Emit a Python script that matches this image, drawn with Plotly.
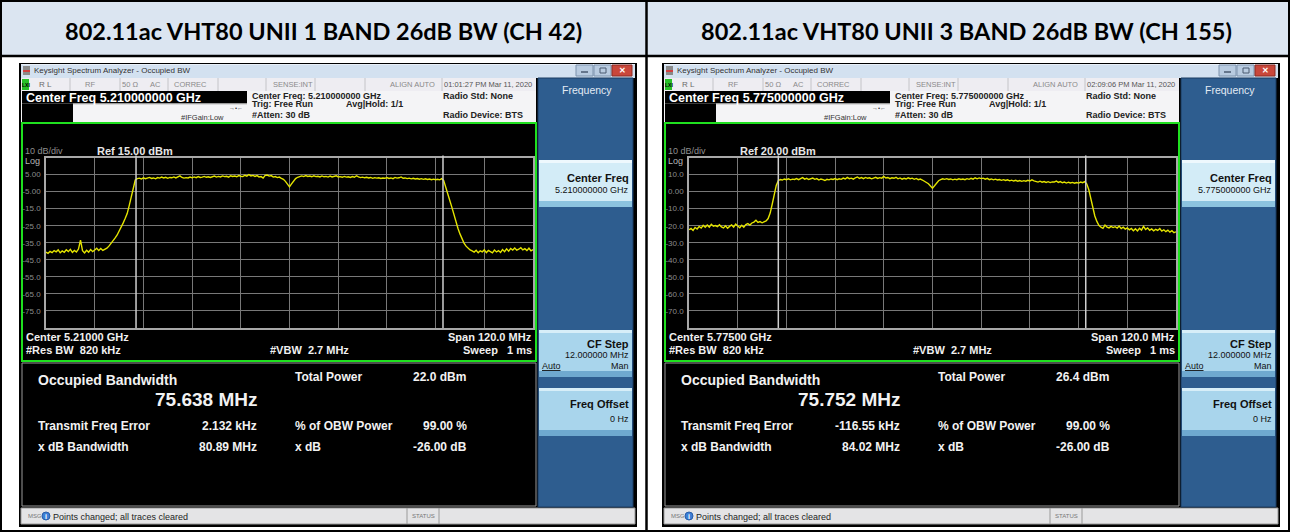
import plotly.graph_objects as go

W, H = 1290, 532

# ---------------- data ----------------
titles = ["802.11ac VHT80 UNII 1 BAND 26dB BW (CH 42)",
          "802.11ac VHT80 UNII 3 BAND 26dB BW (CH 155)"]
center_freq = ["5.210000000 GHz", "5.775000000 GHz"]
center_short = ["5.21000 GHz", "5.77500 GHz"]
timestamps = ["01:01:27 PM Mar 11, 2020", "02:09:06 PM Mar 11, 2020"]
span_mhz = 120.0
ref_dbm = [15.0, 20.0]
db_per_div = 10.0
obw_mhz = [75.638, 75.752]
freq_err_khz = [2.132, -116.55]
xdb_bw_mhz = [80.89, 84.02]
total_power_dbm = [22.0, 26.4]
obw_power_pct = [99.00, 99.00]
x_db = [-26.00, -26.00]

# trace readings (dBm), equally spaced across the 120 MHz span
trace_ch42 = [
    -40.5, -41.2, -40.1, -40.8, -39.6, -40.3, -39.2, -40.9, -39.8, -40.6,
    -39.1, -40.2, -38.9, -40.7, -39.5, -40.4, -38.7, -33.5, -39.6, -41.0,
    -39.4, -40.5, -39.0, -40.2, -39.3, -38.2, -39.6, -38.4, -39.5, -38.9,
    -38.2, -37.0, -35.6, -34.0, -32.3, -30.6, -28.4, -25.9, -23.5, -20.8,
    -17.9, -13.2, -7.5, -2.5, 1.8, 2.6,
    2.9, 2.4, 3.1, 2.6, 2.8, 3.3, 2.7, 3.0, 2.5, 3.2,
    2.9, 3.5, 3.0, 3.4, 2.8, 3.3, 3.1, 3.6, 3.0, 3.4,
    4.2, 3.3, 2.9, 3.2, 3.0, 3.5, 3.1, 3.6, 3.2, 3.8,
    3.3, 3.5, 3.9, 3.4, 3.7, 3.3, 3.8, 4.1, 3.5, 3.9,
    3.6, 4.2, 3.8, 4.0, 3.5, 4.3, 3.9, 4.1, 3.7, 4.4,
    4.0, 3.8, 4.6, 4.1, 5.0, 4.2, 4.5, 3.9, 4.4, 3.6,
    3.8, 2.9, 4.5, 4.7, 4.1, 4.4, 3.5, 3.8, 3.2, 3.5,
    2.8, 2.2, 1.0, -0.8,
    -2.2,
    -0.5, 1.4, 2.6, 3.4, 3.9, 4.2, 3.8, 4.4, 3.9, 4.1,
    3.7, 4.3, 3.8, 4.0, 3.6, 4.2, 3.7, 3.9, 3.5, 4.1,
    3.6, 3.9, 4.3, 3.6, 3.8, 3.4, 3.9, 3.5, 3.7, 3.3,
    3.8, 3.4, 4.3, 3.6, 3.2, 3.5, 3.1, 3.4, 3.0, 3.3,
    2.8, 3.2, 2.9, 3.1, 2.7, 3.0, 2.8, 3.2, 2.7, 3.0,
    2.6, 3.3, 2.9, 3.1, 3.6, 2.8, 3.0, 2.6, 2.9, 2.5,
    2.8, 2.4, 2.7, 2.3, 2.6, 2.2, 2.5, 2.1, 2.4, 2.0,
    2.3, 2.0, 2.2, 1.9, 2.6, 1.5,
    -2.0, -6.5, -10.2, -14.1, -18.6, -23.0, -26.5, -29.8, -32.6, -35.2,
    -37.0, -38.4, -39.2,
    -39.8, -40.5, -39.4, -40.9, -39.7, -40.3, -39.2, -40.8, -39.5, -40.1,
    -40.9, -39.3, -40.4, -39.6, -40.7, -39.0, -40.2, -38.6, -39.9, -38.4,
    -39.3, -38.1, -39.4, -38.8, -37.9, -39.2, -38.5, -39.6, -38.2, -39.7,
    -39.0,
]

trace_ch155 = [
    -22.4, -21.6, -22.8, -21.0, -21.9, -20.5, -21.4, -19.8, -20.9, -19.6,
    -20.8, -19.2, -20.3, -19.9, -20.6, -19.4, -20.7, -21.3, -20.1, -21.5,
    -20.4, -19.6, -20.8, -19.1, -20.2, -21.2, -19.7, -20.9, -19.3, -18.8,
    -19.6, -18.4, -17.9, -16.8, -18.1, -17.6, -18.3, -17.9, -17.2, -15.8,
    -12.6, -7.4, -1.8, 3.6, 6.4, 7.1,
    6.8, 7.4, 7.0, 7.5, 6.9, 7.3, 7.1, 7.6, 7.0, 7.4,
    8.2, 7.3, 7.8, 7.1, 7.5, 7.9, 7.2, 7.6, 6.8, 7.4,
    7.0, 6.5, 7.2, 6.9, 7.4, 7.1, 7.6, 7.0, 7.5, 7.2,
    7.9, 7.4, 8.3, 7.6, 7.9, 7.3, 8.1, 8.6, 7.7, 8.2,
    7.6, 8.3, 7.8, 8.1, 7.5, 8.0, 8.4, 7.7, 8.2, 7.9,
    8.9, 8.0, 8.3, 7.6, 8.1, 7.8, 8.4, 7.5, 8.0, 7.3,
    7.8, 7.4, 8.1, 7.6, 7.9, 7.2, 7.7, 7.0, 7.4, 6.8,
    6.2, 5.5, 4.6, 3.3,
    2.0,
    3.4, 5.2, 6.4, 7.0, 7.5, 7.2, 7.6, 7.1, 7.4, 6.9,
    7.3, 7.0, 7.5, 7.1, 7.4, 7.0, 7.6, 7.2, 7.8, 7.3,
    8.1, 7.5, 8.0, 7.6, 7.9, 7.3, 7.8, 7.0, 7.4, 6.9,
    7.3, 6.8, 7.1, 6.6, 7.0, 6.5, 6.9, 6.3, 6.7, 6.2,
    6.6, 6.1, 6.5, 6.0, 6.4, 6.1, 6.6, 6.2, 6.9, 6.3,
    6.0, 5.6, 6.1, 5.5, 5.9, 5.4, 5.8, 5.3, 5.7, 5.6,
    6.2, 5.4, 5.9, 5.2, 5.6, 5.0, 5.5, 5.1, 5.4, 4.9,
    5.3, 5.0, 5.6, 5.2, 5.8, 4.6,
    1.2, -4.1, -9.6, -14.3, -17.5, -19.8, -20.9, -21.5, -19.6, -20.8,
    -21.3, -20.4, -21.1,
    -20.6, -21.4, -20.2, -21.7, -20.9, -22.0, -21.3, -22.4, -21.6, -22.9,
    -21.8, -23.1, -21.5, -22.6, -20.4, -22.2, -21.3, -22.7, -21.9, -23.0,
    -22.1, -22.8, -21.7, -23.2, -22.4, -23.5, -22.6, -23.8, -22.9, -24.1,
    -23.6,
]
traces = [trace_ch42, trace_ch155]

# ---------------- helpers ----------------
def X(px):
    return px / W

def Y(py):
    return 1 - py / H

shapes = []
annotations = []

def rect(x0, y0, x1, y1, fill=None, line=None, lw=0, layer="below"):
    shapes.append(dict(type="rect", xref="paper", yref="paper",
                       x0=X(x0), x1=X(x1), y0=Y(y1), y1=Y(y0),
                       fillcolor=fill if fill else "rgba(0,0,0,0)",
                       line=dict(color=line if line else "rgba(0,0,0,0)", width=lw),
                       layer=layer))

def hline(x0, x1, y, color, lw=1, layer="below"):
    shapes.append(dict(type="line", xref="paper", yref="paper",
                       x0=X(x0), x1=X(x1), y0=Y(y), y1=Y(y),
                       line=dict(color=color, width=lw), layer=layer))

def vline(x, y0, y1, color, lw=1, layer="below"):
    shapes.append(dict(type="line", xref="paper", yref="paper",
                       x0=X(x), x1=X(x), y0=Y(y0), y1=Y(y1),
                       line=dict(color=color, width=lw), layer=layer))

def txt(x, y, s, size=9, color="#ffffff", anchor="left", bold=False,
        family="Liberation Sans"):
    annotations.append(dict(xref="paper", yref="paper", x=X(x), y=Y(y), text=s,
                            showarrow=False, xanchor=anchor, yanchor="middle",
                            borderpad=0,
                            font=dict(size=size, color=color, family=family,
                                      weight="bold" if bold else "normal")))

def fmt_tick(v):
    if abs(v) < 10:
        return f"{v:.2f}"
    return f"{v:.1f}"

# ---------------- table ----------------
rect(0, 0, W, 56, fill="#dbe5f1")
rect(0, 56, W, H, fill="#ffffff")
hline(0, W, 1, "#000000", 2)
hline(0, W, 56, "#000000", 2.5)
hline(0, W, 531, "#000000", 2)
vline(1, 0, H, "#000000", 2)
vline(646.5, 0, H, "#000000", 2.5)
vline(1289, 0, H, "#000000", 2)
txt(323, 31, titles[0], size=23.5, color="#000000", anchor="center", bold=True, family="Lato")
txt(967, 31, titles[1], size=23.5, color="#000000", anchor="center", bold=True, family="Lato")

fig = go.Figure()

for i, ox in enumerate([0, 643]):
    # screenshot frame
    rect(ox + 19, 63, ox + 637, 527, fill="#000000")
    # title bar
    rect(ox + 21, 64, ox + 635, 78, fill="#d3e1f0")
    hline(ox + 21, ox + 635, 64.5, "#e9f0f8", 1)
    rect(ox + 23, 66, ox + 30, 75, fill="#8a8a8a")
    rect(ox + 23, 70, ox + 30, 72, fill="#d04040")
    txt(ox + 33, 70.5, "Keysight Spectrum Analyzer - Occupied BW", size=8, color="#333333")
    # window controls
    rect(ox + 576, 65, ox + 593, 76, fill="#b8cbe0", line="#7d93ad", lw=1)
    hline(ox + 581, ox + 588, 72, "#4a5a70", 1.5)
    rect(ox + 594, 65, ox + 611, 76, fill="#b8cbe0", line="#7d93ad", lw=1)
    rect(ox + 600, 68, ox + 606, 73, line="#4a5a70", lw=1)
    rect(ox + 612, 65, ox + 632, 76, fill="#c9473b", line="#8d2c24", lw=1)
    txt(ox + 622, 70.5, "✕", size=8, color="#ffffff", anchor="center", bold=True)

    # status row
    rect(ox + 21, 78, ox + 536, 91, fill="#eeedf2")
    rect(ox + 22, 79, ox + 29, 90, fill="#28c028")
    txt(ox + 25.5, 84.5, "LXI", size=5, color="#000000", anchor="center", bold=True)
    for sx in [70, 120, 168, 218, 266, 315, 365, 442]:
        vline(ox + sx, 78, 91, "#c4c4c8", 1)
    txt(ox + 38, 84.5, "R L", size=8, color="#6a6a6a")
    txt(ox + 90, 84.5, "RF", size=7.5, color="#8a8a8a", anchor="center")
    txt(ox + 130, 84.5, "50 Ω", size=7.5, color="#8a8a8a", anchor="center")
    txt(ox + 155, 84.5, "AC", size=7.5, color="#8a8a8a", anchor="center")
    txt(ox + 190, 84.5, "CORREC", size=7.5, color="#8a8a8a", anchor="center")
    txt(ox + 293, 84.5, "SENSE:INT", size=7.5, color="#8a8a8a", anchor="center")
    txt(ox + 412, 84.5, "ALIGN AUTO", size=7.5, color="#8a8a8a", anchor="center")
    txt(ox + 488, 84.5, timestamps[i], size=7.5, color="#555555", anchor="center")

    # settings rows
    rect(ox + 21, 91, ox + 536, 122, fill="#f4f4f6")
    rect(ox + 22, 91, ox + 247, 103.5, fill="#000000")
    rect(ox + 22, 103.5, ox + 73, 122, fill="#000000")
    hline(ox + 73, ox + 247, 104, "#bdbdbd", 1)
    txt(ox + 25, 97.5, "Center Freq " + center_freq[i], size=12.5, color="#ffffff", bold=True)
    txt(ox + 202, 117, "#IFGain:Low", size=7.5, color="#333333", anchor="center")
    txt(ox + 236, 108, "→•←", size=6, color="#333333", anchor="center")
    txt(ox + 251, 95.5, "Center Freq: " + center_freq[i], size=9, color="#222222", bold=True)
    txt(ox + 251, 104.5, "Trig: Free Run", size=9, color="#222222", bold=True)
    txt(ox + 345, 104.5, "Avg|Hold: 1/1", size=9, color="#222222", bold=True)
    txt(ox + 251, 114.5, "#Atten: 30 dB", size=9, color="#222222", bold=True)
    txt(ox + 442, 95.5, "Radio Std: None", size=9, color="#222222", bold=True)
    txt(ox + 442, 114.5, "Radio Device: BTS", size=9, color="#222222", bold=True)

    # graticule window (green box)
    rect(ox + 22, 123, ox + 536, 361, fill="#000000", line="#1fe01f", lw=2)
    txt(ox + 24, 151, "10 dB/div", size=9, color="#8f8f8f")
    txt(ox + 96, 151, f"Ref {ref_dbm[i]:.2f} dBm", size=11, color="#e6e6e6", bold=True)
    txt(ox + 24, 161, "Log", size=9, color="#b5b5b5")
    txt(ox + 25, 337, "Center " + center_short[i], size=11, color="#f0f0f0", bold=True)
    txt(ox + 533, 337, f"Span {span_mhz:.1f} MHz", size=11, color="#f0f0f0", bold=True, anchor="right")
    txt(ox + 25, 350, "#Res BW  820 kHz", size=11, color="#f0f0f0", bold=True)
    txt(ox + 269, 350, "#VBW  2.7 MHz", size=11, color="#f0f0f0", bold=True)
    txt(ox + 533, 350, "Sweep   1 ms", size=11, color="#f0f0f0", bold=True, anchor="right")

    # measurement area
    rect(ox + 22, 363, ox + 536, 506, fill="#000000", line="#9a9a9a", lw=1)
    txt(ox + 37, 379.5, "Occupied Bandwidth", size=14, color="#f2f2f2", bold=True)
    txt(ox + 258, 399.5, f"{obw_mhz[i]:.3f} MHz", size=19, color="#f2f2f2", bold=True, anchor="right")
    txt(ox + 294, 377, "Total Power", size=12, color="#f2f2f2", bold=True)
    txt(ox + 412, 377, f"{total_power_dbm[i]:.1f} dBm", size=12, color="#f2f2f2", bold=True)
    err = freq_err_khz[i]
    err_s = f"{err:.3f} kHz" if abs(err) < 10 else f"{err:.2f} kHz"
    txt(ox + 37, 425.5, "Transmit Freq Error", size=12, color="#f2f2f2", bold=True)
    txt(ox + 258, 425.5, err_s, size=12, color="#f2f2f2", bold=True, anchor="right")
    txt(ox + 294, 425.5, "% of OBW Power", size=12, color="#f2f2f2", bold=True)
    txt(ox + 468, 425.5, f"{obw_power_pct[i]:.2f} %", size=12, color="#f2f2f2", bold=True, anchor="right")
    txt(ox + 37, 446.5, "x dB Bandwidth", size=12, color="#f2f2f2", bold=True)
    txt(ox + 258, 446.5, f"{xdb_bw_mhz[i]:.2f} MHz", size=12, color="#f2f2f2", bold=True, anchor="right")
    txt(ox + 294, 446.5, "x dB", size=12, color="#f2f2f2", bold=True)
    txt(ox + 468, 446.5, f"{x_db[i]:.2f} dB", size=12, color="#f2f2f2", bold=True, anchor="right")

    # status bar
    rect(ox + 21, 508, ox + 635, 524, fill="#e4e4e6", line="#9a9a9a", lw=1)
    txt(ox + 27, 516, "MSG", size=6, color="#777777")
    shapes.append(dict(type="circle", xref="paper", yref="paper",
                       x0=X(ox + 42), x1=X(ox + 50), y0=Y(520), y1=Y(512),
                       fillcolor="#3d7fd6", line=dict(color="#2a5ea8", width=1), layer="below"))
    txt(ox + 46, 516, "i", size=7, color="#ffffff", anchor="center", bold=True)
    txt(ox + 52, 516.5, "Points changed; all traces cleared", size=9, color="#1e1e1e")
    vline(ox + 407, 508, 524, "#9a9a9a", 1)
    vline(ox + 439, 508, 524, "#9a9a9a", 1)
    txt(ox + 423, 516, "STATUS", size=6, color="#777777", anchor="center")

    # soft-key panel
    rect(ox + 538, 78, ox + 633, 507, fill="#2e5d8f", line="#1b3d63", lw=1)
    txt(ox + 587, 90, "Frequency", size=10.5, color="#e3ebf4", anchor="center")
    for (b0, b1, top_col, mid_col, bot_col) in [(160, 207, "#eef8fd", "#d3ecf7", "#8cc3df"),
                                                 (330, 377, "#d7eef8", "#a9d5ec", "#6fa9cf"),
                                                 (388, 436, "#d7eef8", "#a9d5ec", "#6fa9cf")]:
        rect(ox + 539, b0, ox + 632, b1, fill=mid_col)
        rect(ox + 539, b0, ox + 632, b0 + 3, fill=top_col)
        rect(ox + 539, b1 - 6, ox + 632, b1, fill=bot_col)
    txt(ox + 630, 177.5, "Center Freq", size=11, color="#111111", bold=True, anchor="right")
    txt(ox + 630, 190.5, center_freq[i], size=9, color="#111111", anchor="right")
    txt(ox + 630, 343.5, "CF Step", size=11, color="#111111", bold=True, anchor="right")
    txt(ox + 630, 355, f"{span_mhz / 10:.6f} MHz", size=9, color="#111111", anchor="right")
    txt(ox + 541, 365.5, "<u>Auto</u>", size=9, color="#111111")
    txt(ox + 630, 365.5, "Man", size=9, color="#111111", anchor="right")
    txt(ox + 630, 403.5, "Freq Offset", size=11, color="#111111", bold=True, anchor="right")
    txt(ox + 630, 419, "0 Hz", size=9, color="#111111", anchor="right")

    # spectrum trace
    n = len(traces[i])
    freq = [-span_mhz / 2 + k * span_mhz / (n - 1) for k in range(n)]
    ax = "" if i == 0 else "2"
    fig.add_trace(go.Scatter(x=freq, y=traces[i], mode="lines",
                             line=dict(color="#e4e400", width=1.4),
                             xaxis="x" + ax, yaxis="y" + ax,
                             hoverinfo="skip", showlegend=False))

    # OBW markers
    f_err = freq_err_khz[i] / 1000.0
    for mk in [f_err - obw_mhz[i] / 2, f_err + obw_mhz[i] / 2]:
        shapes.append(dict(type="line", xref="x" + ax, yref="y" + ax + " domain",
                           x0=mk, x1=mk, y0=0, y1=1.012,
                           line=dict(color="#cfcfcf", width=1.5), layer="above"))

    top = ref_dbm[i]
    yvals = [top - db_per_div * k for k in range(1, 10)]
    gx0, gx1 = ox + 46, ox + 533
    xa = dict(domain=[X(gx0), X(gx1)], range=[-span_mhz / 2, span_mhz / 2],
              tickvals=[-span_mhz / 2 + span_mhz / 10 * k for k in range(1, 10)],
              showticklabels=False, showgrid=True, gridcolor="#787878", gridwidth=1,
              showline=True, mirror=True, linecolor="#a8a8a8", linewidth=1.5,
              zeroline=False, ticks="", fixedrange=True,
              anchor="y" + ax)
    ya = dict(domain=[Y(328), Y(157.5)], range=[top - 10 * db_per_div, top],
              tickvals=yvals, ticktext=[fmt_tick(v) for v in yvals],
              tickfont=dict(size=8, color="#8c8c8c", family="Liberation Sans"),
              showgrid=True, gridcolor="#787878", gridwidth=1,
              showline=True, mirror=True, linecolor="#a8a8a8", linewidth=1.5,
              zeroline=False, ticks="", ticklabelstandoff=2, fixedrange=True,
              anchor="x" + ax)
    if i == 0:
        fig.update_layout(xaxis=xa, yaxis=ya)
    else:
        fig.update_layout(xaxis2=xa, yaxis2=ya)

fig.update_layout(width=W, height=H, autosize=False,
                  margin=dict(l=0, r=0, t=0, b=0),
                  paper_bgcolor="#ffffff", plot_bgcolor="#000000",
                  shapes=shapes, annotations=annotations, showlegend=False)

fig.write_html("out.html", config={"displayModeBar": False},
               post_script="document.body.style.margin='0px';document.body.style.padding='0px';")
